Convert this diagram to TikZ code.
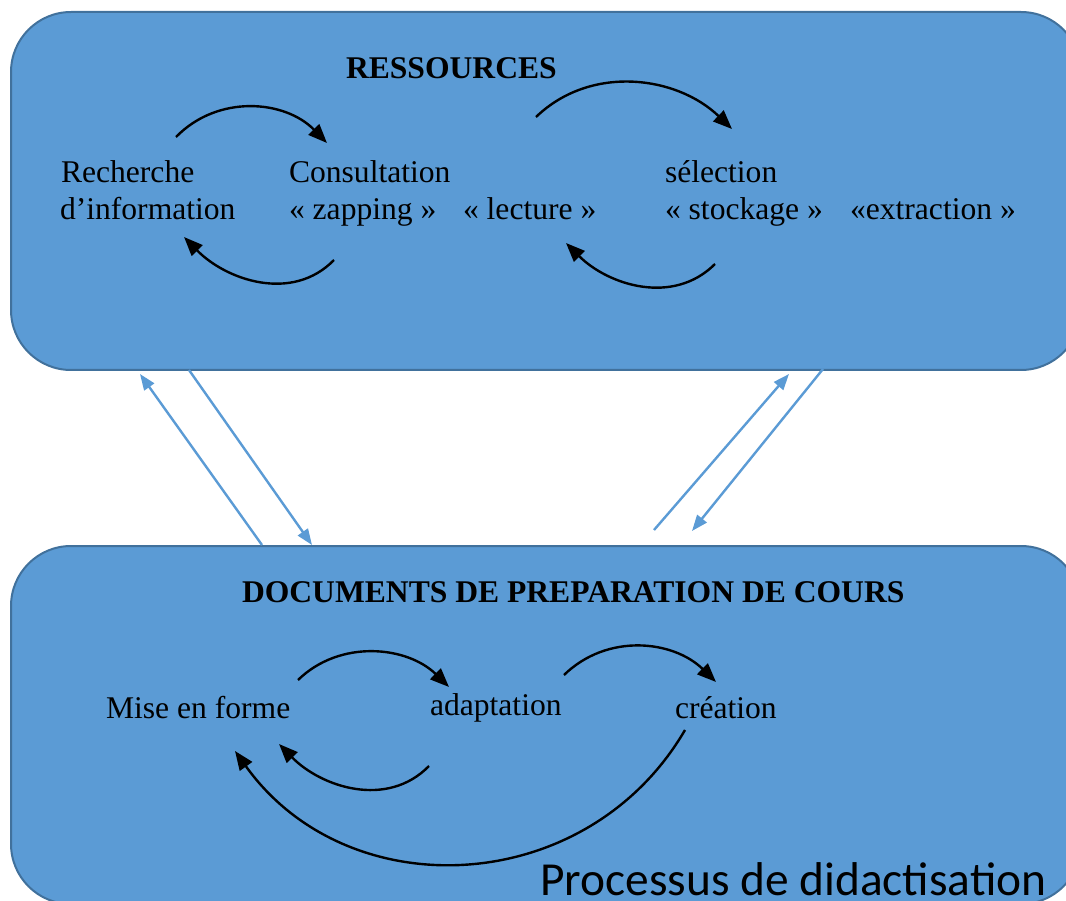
\documentclass[tikz,border=0pt]{standalone}
\usepackage{fontspec}
\setmainfont{Liberation Serif}
\newfontfamily\calibrifont{Carlito}
\usetikzlibrary{arrows.meta}
\definecolor{boxfill}{HTML}{5B9BD5}
\definecolor{boxline}{HTML}{41719C}
\definecolor{linkblue}{HTML}{5B9BD5}
\begin{document}
\begin{tikzpicture}[x=1pt,y=-1pt,
  panel/.style={draw=boxline, fill=boxfill, line width=2pt, rounded corners=60pt,
    minimum width=1070pt, minimum height=358pt, inner sep=0pt, outer sep=0pt},
  lbl/.style={anchor=base west, inner sep=0pt, outer sep=0pt, font=\fontsize{31.6}{37}\selectfont},
  ttl/.style={anchor=base west, inner sep=0pt, outer sep=0pt, font=\fontsize{31.6}{37}\selectfont\bfseries},
  cyc/.style={line width=2.4pt, -{Triangle[length=19pt,width=15pt]}},
  link/.style={draw=linkblue, line width=2.4pt, -{Triangle[length=16pt,width=12pt]}},
]
\useasboundingbox (0,0) rectangle (1066,901);
\clip (0,0) rectangle (1066,901);

% panels
\node[panel] (res) at (546,191) {};
\node[panel] (doc) at (546,725) {};

% links between panels
\coordinate (la0) at (262,545); \coordinate (la1) at (140,374);
\coordinate (lb0) at (189,370); \coordinate (lb1) at (312,545);
\coordinate (lc0) at (654,530); \coordinate (lc1) at (789,374);
\coordinate (ld0) at (823,369); \coordinate (ld1) at (692,531);
\draw[link] (la0) -- (la1);
\draw[link] (lb0) -- (lb1);
\draw[link] (lc0) -- (lc1);
\draw[link] (ld0) -- (ld1);

% texts top
\node[ttl] (tres) at (346,79) {RESSOURCES};
\node[lbl] (rech1) at (61,183) {Recherche};
\node[lbl] (rech2) at (60,220) {d’information};
\node[lbl] (cons1) at (289,183) {Consultation};
\node[lbl] (cons2) at (289,220) {« zapping »};
\node[lbl] (lect) at (463,220) {« lecture »};
\node[lbl] (sel1) at (665,183) {sélection};
\node[lbl] (sel2) at (665,220) {« stockage »};
\node[lbl] (extr) at (850,220) {«extraction »};

% texts bottom
\node[ttl] (tdoc) at (242,602) {DOCUMENTS DE PREPARATION DE COURS};
\node[lbl] (mise) at (106,718) {Mise en forme};
\node[lbl] (adap) at (430,715) {adaptation};
\node[lbl] (crea) at (675,718) {création};
\node[anchor=base west, inner sep=0pt, font=\calibrifont\fontsize{47.4}{56}\selectfont] (proc) at (540,895) {Processus de didactisation};

% cycle arcs top
\coordinate (a1s) at (176,137); \coordinate (a1e) at (327,143);
\draw[cyc] (a1s) .. controls (218,94) and (285,100) .. (a1e);
\coordinate (a2s) at (334,260); \coordinate (a2e) at (184,237);
\draw[cyc] (a2s) .. controls (292,303) and (226,280) .. (a2e);
\coordinate (a3s) at (536,117); \coordinate (a3e) at (732,129);
\draw[cyc] (a3s) .. controls (591,64) and (677,76) .. (a3e);
\coordinate (a4s) at (715,264); \coordinate (a4e) at (566,243);
\draw[cyc] (a4s) .. controls (673,306) and (608,285) .. (a4e);

% cycle arcs bottom
\coordinate (b1s) at (298,680); \coordinate (b1e) at (449,687);
\draw[cyc] (b1s) .. controls (340,639) and (407,646) .. (b1e);
\coordinate (b2s) at (429,766); \coordinate (b2e) at (279,744);
\draw[cyc] (b2s) .. controls (387,809) and (321,787) .. (b2e);
\coordinate (b3s) at (564,675); \coordinate (b3e) at (716,682);
\draw[cyc] (b3s) .. controls (607,633) and (673,640) .. (b3e);
\coordinate (b4s) at (685,730); \coordinate (b4e) at (235,751);
\draw[cyc] (b4s) .. controls (587,898) and (348,909) .. (b4e);
\end{tikzpicture}
\end{document}
